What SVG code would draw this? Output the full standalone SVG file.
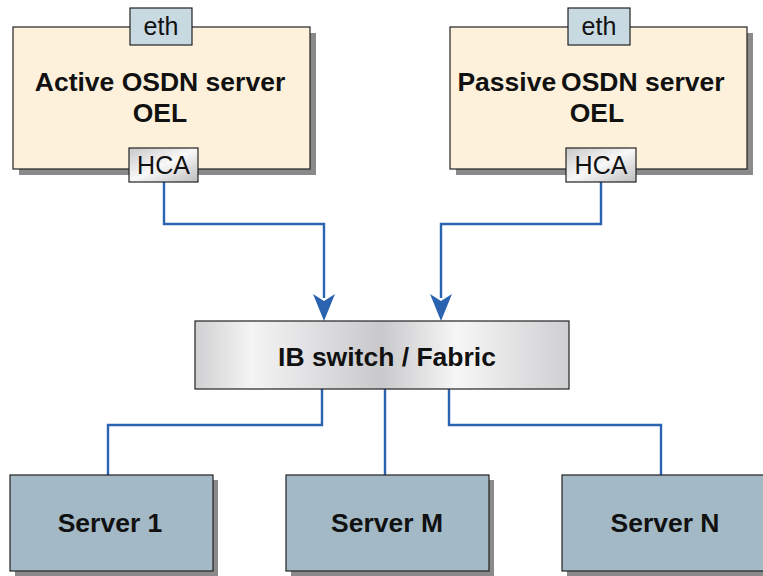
<svg xmlns="http://www.w3.org/2000/svg" width="763" height="576" viewBox="0 0 763 576">
<style>
.shadow{fill:#8a8a8a}
.host{fill:#fdf1dc;stroke:#222;stroke-width:1.2}
.srv{fill:#a3b9c6;stroke:#222;stroke-width:1.2}
.eth{fill:#c9d9e2;stroke:#222;stroke-width:1.2}
.hca{fill:url(#metal);stroke:#222;stroke-width:1.2}
.sw{fill:url(#metal2);stroke:#222;stroke-width:1.2}
.big{font-family:"Liberation Sans",Arial,sans-serif;font-weight:bold;font-size:26.5px;fill:#111;text-anchor:middle}
.port{font-family:"Liberation Sans",Arial,sans-serif;font-size:25px;fill:#111;text-anchor:middle}
.conn{fill:none;stroke:#2c63b0;stroke-width:2.4}
.head{fill:#2c63b0}
</style>
<defs>
<linearGradient id="metal" x1="0" y1="0" x2="1" y2="1">
<stop offset="0" stop-color="#c8c8c8"/>
<stop offset="0.5" stop-color="#f8f8f8"/>
<stop offset="1" stop-color="#bdbdbd"/>
</linearGradient>
<linearGradient id="metal2" x1="0" y1="0" x2="1" y2="0">
<stop offset="0" stop-color="#d0d0d2"/>
<stop offset="0.15" stop-color="#f4f4f5"/>
<stop offset="0.5" stop-color="#c9c9cc"/>
<stop offset="0.7" stop-color="#f6f6f6"/>
<stop offset="1" stop-color="#cfcfd2"/>
</linearGradient>
</defs>

<g id="connectors">
<path class="conn" d="M164,182 V224 H324 V298"/>
<path class="conn" d="M601,182 V224 H441 V298"/>
<path class="head" d="M313,294 L324,301 L335,294 L324,321 Z"/>
<path class="head" d="M430,294 L441,301 L452,294 L441,321 Z"/>
<path class="conn" d="M322,389 V425 H108 V475"/>
<path class="conn" d="M385,389 V475"/>
<path class="conn" d="M449,389 V425 H661 V475"/>
</g>

<g id="active">
<rect class="shadow" x="19" y="33" width="297" height="142"/>
<rect class="host" x="13" y="27" width="297" height="142"/>
<text class="big" x="160" y="91">Active OSDN server</text>
<text class="big" x="160" y="122">OEL</text>
</g>
<g id="active-eth">
<rect class="eth" x="130" y="8" width="62" height="37"/>
<text class="port" x="161" y="35">eth</text>
</g>
<g id="active-hca">
<rect class="hca" x="129" y="148" width="69" height="34"/>
<text class="port" x="163.5" y="174">HCA</text>
</g>

<g id="passive">
<rect class="shadow" x="456" y="33" width="297" height="142"/>
<rect class="host" x="450" y="27" width="297" height="142"/>
<text class="big" x="591" y="91">Passive<tspan dx="-2.5"> </tspan>OSDN server</text>
<text class="big" x="597" y="122">OEL</text>
</g>
<g id="passive-eth">
<rect class="eth" x="568" y="8" width="62" height="37"/>
<text class="port" x="599" y="35">eth</text>
</g>
<g id="passive-hca">
<rect class="hca" x="566" y="148" width="70" height="34"/>
<text class="port" x="601" y="174">HCA</text>
</g>

<g id="switch">
<rect class="sw" x="195" y="321" width="374" height="68"/>
<text class="big" x="387" y="366">IB switch / Fabric</text>
</g>

<g id="server1">
<rect class="shadow" x="15" y="480" width="203" height="97"/>
<rect class="srv" x="10" y="475" width="203" height="96"/>
<text class="big" x="110" y="532">Server 1</text>
</g>
<g id="serverM">
<rect class="shadow" x="291" y="480" width="203" height="97"/>
<rect class="srv" x="286" y="475" width="203" height="96"/>
<text class="big" x="387" y="532">Server M</text>
</g>
<g id="serverN">
<rect class="shadow" x="567" y="480" width="203" height="97"/>
<rect class="srv" x="562" y="475" width="203" height="96"/>
<text class="big" x="665" y="532">Server N</text>
</g>
</svg>
